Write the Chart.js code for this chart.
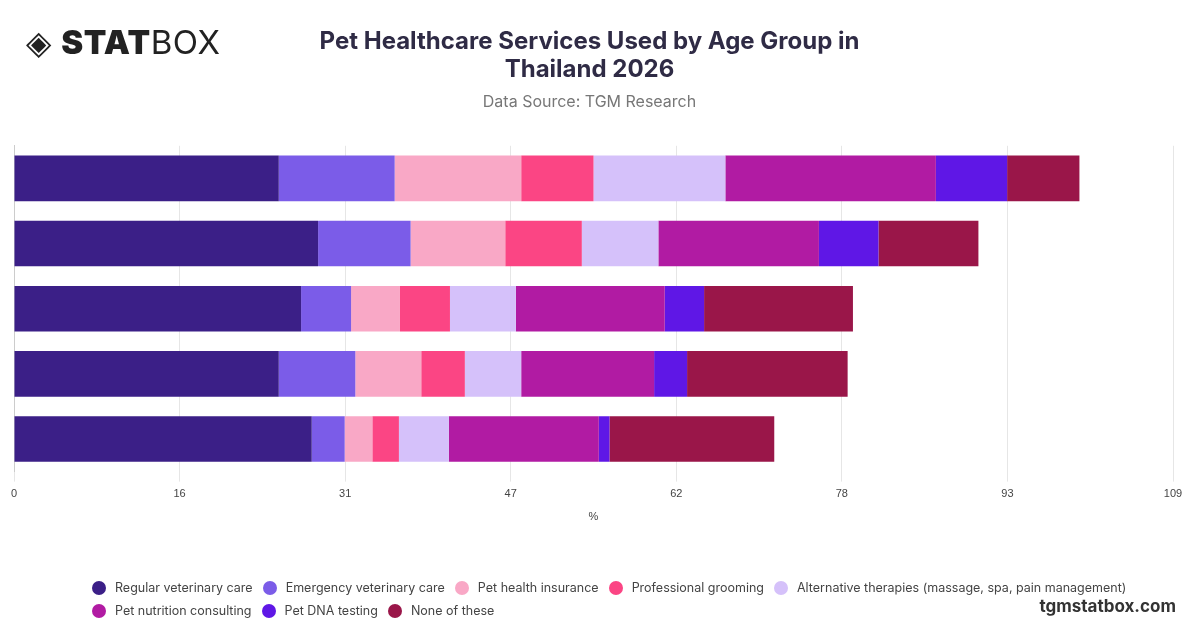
<!DOCTYPE html>
<html><head><meta charset="utf-8">
<script src="https://cdn.jsdelivr.net/npm/chart.js@4"></script>
<style>
body{margin:0;width:1200px;height:628px;background:#fff;font-family:Inter,"Open Sans",sans-serif;position:relative;overflow:hidden}
#wrap{position:absolute;left:0;top:0;width:1200px;height:628px}
#logo{position:absolute;left:26px;top:22px;font-size:33px;color:#222;letter-spacing:0.5px}
#logo b{font-weight:900}
#site{position:absolute;right:24px;bottom:12px;font-weight:700;font-size:17px;color:#333}
#legend{position:absolute;left:92px;top:580px;width:1080px;display:flex;flex-wrap:wrap;font-size:12.5px;color:#444;row-gap:8px;white-space:nowrap}
#legend span{display:inline-flex;align-items:center;margin-right:10px}
#legend i{display:inline-block;width:14px;height:14px;border-radius:50%;margin-right:9px}
</style></head><body>
<div id="wrap"><canvas id="c" width="1200" height="628"></canvas></div>
<div id="logo">◈ <b>STAT</b>BOX</div>
<div id="legend"></div>
<div id="site">tgmstatbox.com</div>
<script>
const categories=["Gen Z","Millennials","Gen X","Baby Boomers","Silent Generation"];
const seriesNames=["Regular veterinary care","Emergency veterinary care","Pet health insurance","Professional grooming","Alternative therapies (massage, spa, pain management)","Pet nutrition consulting","Pet DNA testing","None of these"];
const colors=["#3b1f87","#7b5ce8","#f9a8c6","#fb4584","#d5c1fa","#b11ba3","#5f17e6","#9a1649"];
const values=[
 [24.9,28.6,27.0,24.9,28.0],
 [10.9,8.7,4.7,7.2,3.1],
 [11.9,8.9,4.6,6.2,2.6],
 [6.8,7.2,4.7,4.1,2.5],
 [12.4,7.2,6.2,5.3,4.7],
 [19.8,15.1,14.0,12.5,14.1],
 [6.7,5.6,3.7,3.1,1.0],
 [6.8,9.4,14.0,15.1,15.5]
];
document.getElementById('legend').innerHTML=seriesNames.map((n,i)=>`<span><i style="background:${colors[i]}"></i>${n}</span>`).join('');
new Chart(document.getElementById('c'),{
 type:'bar',
 data:{labels:categories,datasets:seriesNames.map((n,i)=>({label:n,data:values[i],backgroundColor:colors[i],borderWidth:0,barPercentage:0.7,categoryPercentage:1}))},
 options:{indexAxis:'y',responsive:false,animation:false,
  layout:{padding:{left:6,right:27,top:0,bottom:0}},
  plugins:{
   title:{display:true,text:["Pet Healthcare Services Used by Age Group in","Thailand 2026"],font:{size:24,weight:'bold',family:'Inter'},color:'#2f2b45',padding:{top:27,bottom:8}},
   subtitle:{display:true,text:"Data Source: TGM Research",font:{size:16,family:'Inter'},color:'#777',padding:{bottom:34}},
   legend:{display:false},
   tooltip:{enabled:false}
  },
  scales:{
   x:{stacked:true,min:0,max:109,afterBuildTicks:a=>{a.ticks=[0,1,2,3,4,5,6,7].map(k=>({value:k*109/7}));},
      ticks:{callback:v=>Math.round(v),font:{size:11},color:'#444',padding:6},
      grid:{color:'#e6e6e6',drawTicks:true,tickLength:10},border:{display:false},
      title:{display:true,text:'%',font:{size:11},color:'#444',padding:{top:4,bottom:104}}},
   y:{stacked:true,ticks:{display:false},grid:{display:false},border:{display:true,color:'#ccc'}}
  }
 }
});
</script></body></html>
